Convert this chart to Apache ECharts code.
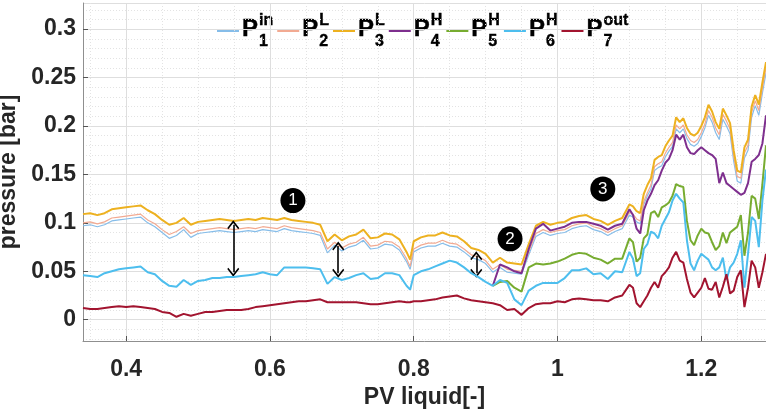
<!DOCTYPE html>
<html>
<head>
<meta charset="utf-8">
<script src="https://cdn.jsdelivr.net/npm/echarts@6/dist/echarts.min.js"></script>
<style>html,body{margin:0;padding:0;background:#fff;}#c{width:766px;height:410px;}</style>
</head>
<body>
<div id="c"></div>
<script>
// ---- data ----
const pv = [0.34,0.35,0.36,0.37,0.38,0.39,0.40,0.41,0.42,0.43,0.44,0.45,0.46,0.47,0.48,0.49,0.50,0.51,0.52,0.53,0.54,0.55,0.56,0.57,0.58,0.59,0.60,0.61,0.62,0.63,0.64,0.65,0.66,0.67,0.68,0.69,0.70,0.71,0.72,0.73,0.74,0.75,0.76,0.77,0.78,0.79,0.795,0.80,0.81,0.82,0.83,0.84,0.85,0.86,0.87,0.88,0.89,0.90,0.91,0.92,0.93,0.94,0.95,0.96,0.97,0.98,0.99,1.00,1.01,1.02,1.03,1.04,1.05,1.06,1.07,1.08,1.09,1.10,1.105,1.11,1.115,1.12,1.125,1.13,1.135,1.14,1.145,1.15,1.155,1.16,1.165,1.17,1.175,1.18,1.185,1.19,1.195,1.20,1.205,1.21,1.215,1.22,1.225,1.23,1.235,1.24,1.245,1.25,1.255,1.26,1.265,1.27,1.275,1.28,1.285,1.29];

const p1 = [0.097,0.098,0.096,0.098,0.102,0.103,0.104,0.105,0.106,0.100,
0.096,0.090,0.084,0.087,0.093,0.085,0.089,0.090,0.091,0.092,
0.091,0.090,0.091,0.092,0.091,0.093,0.092,0.091,0.094,0.092,
0.091,0.090,0.089,0.087,0.069,0.077,0.071,0.075,0.077,0.082,
0.073,0.074,0.078,0.077,0.072,0.060,
0.052,
0.070,0.074,0.076,0.076,0.079,0.076,0.075,0.070,0.064,0.062,
0.058,0.049,0.054,0.049,0.048,0.047,0.067,0.086,0.090,0.087,
0.089,0.090,0.094,0.096,0.097,0.093,0.091,0.087,0.091,0.094,
0.108,
0.106,0.101,0.099,0.119,0.128,0.135,0.154,0.157,0.159,0.168,
0.174,0.179,0.197,0.193,0.197,0.187,0.181,0.179,0.182,0.189,
0.198,0.211,0.204,0.193,0.186,0.207,0.200,0.192,0.164,0.143,
0.141,0.167,0.175,0.209,0.221,0.211,0.234,0.255];

const p2 = [0.100,0.101,0.099,0.101,0.105,0.106,0.107,0.108,0.109,0.103,
0.099,0.093,0.088,0.091,0.096,0.089,0.092,0.093,0.094,0.095,
0.094,0.093,0.094,0.095,0.094,0.096,0.095,0.094,0.097,0.095,
0.094,0.093,0.092,0.090,0.073,0.080,0.074,0.078,0.080,0.085,
0.076,0.077,0.081,0.080,0.075,0.063,
0.055,
0.073,0.077,0.079,0.079,0.082,0.079,0.078,0.073,0.067,0.065,
0.061,0.052,0.057,0.052,0.051,0.050,0.070,0.089,0.093,0.090,
0.092,0.093,0.097,0.099,0.100,0.096,0.094,0.090,0.094,0.097,
0.111,
0.109,0.104,0.102,0.122,0.131,0.139,0.158,0.161,0.163,0.172,
0.178,0.183,0.201,0.197,0.201,0.191,0.185,0.183,0.186,0.193,
0.202,0.216,0.209,0.198,0.191,0.212,0.205,0.197,0.169,0.148,
0.146,0.172,0.180,0.214,0.226,0.216,0.239,0.260];

const p3 = [0.109,0.110,0.108,0.110,0.114,0.115,0.116,0.117,0.118,0.113,
0.109,0.103,0.098,0.100,0.105,0.098,0.101,0.102,0.103,0.104,
0.103,0.102,0.103,0.104,0.103,0.105,0.104,0.103,0.105,0.103,
0.102,0.101,0.100,0.098,0.081,0.088,0.082,0.086,0.088,0.093,
0.084,0.085,0.089,0.088,0.083,0.070,
0.062,
0.081,0.085,0.087,0.087,0.090,0.087,0.086,0.081,0.074,0.072,
0.068,0.059,0.064,0.059,0.058,0.057,0.078,0.097,0.101,0.098,
0.100,0.101,0.105,0.107,0.108,0.104,0.102,0.098,0.102,0.105,
0.119,
0.117,0.112,0.110,0.130,0.139,0.146,0.165,0.168,0.170,0.179,
0.185,0.190,0.209,0.204,0.208,0.198,0.192,0.190,0.193,0.200,
0.209,0.222,0.215,0.204,0.197,0.218,0.211,0.203,0.175,0.154,
0.152,0.178,0.186,0.220,0.232,0.222,0.245,0.266];

// P4 and P5 run under P6 until they branch off at PV = 0.91
const branchPV = 0.91;
const p4 = [0.035,0.057,0.054,0.050,0.048,0.073,0.094,0.099,0.092,
0.094,0.096,0.100,0.101,0.101,0.099,0.097,0.093,0.097,0.099,
0.114,
0.108,0.094,0.089,0.113,0.123,0.130,0.139,0.144,0.154,0.162,
0.166,0.175,0.191,0.186,0.191,0.178,0.172,0.171,0.175,0.178,
0.175,0.172,0.170,0.166,0.141,0.152,0.141,0.138,0.135,0.132,
0.129,0.131,0.141,0.163,0.166,0.170,0.182,0.211];

const p5 = [0.035,0.039,0.040,0.033,0.029,0.054,0.058,0.057,0.058,
0.060,0.063,0.067,0.069,0.068,0.064,0.062,0.058,0.063,0.063,
0.084,
0.080,0.060,0.064,0.084,0.088,0.110,0.112,0.106,0.116,0.118,
0.121,0.128,0.140,0.138,0.137,0.102,0.082,0.077,0.087,0.094,
0.090,0.089,0.080,0.072,0.076,0.090,0.079,0.090,0.093,0.096,
0.108,0.066,0.090,0.128,0.125,0.104,0.140,0.180];

const p6 = [0.046,0.045,0.044,0.048,0.050,0.052,0.053,0.054,0.055,0.049,
0.047,0.040,0.035,0.034,0.041,0.036,0.040,0.041,0.043,0.043,
0.044,0.044,0.045,0.046,0.047,0.049,0.047,0.046,0.054,0.054,
0.054,0.054,0.053,0.052,0.037,0.044,0.041,0.043,0.046,0.048,
0.042,0.043,0.048,0.048,0.046,0.035,
0.031,
0.046,0.050,0.052,0.055,0.058,0.061,0.059,0.054,0.048,0.044,
0.039,0.035,0.041,0.038,0.021,0.015,0.030,0.035,0.038,0.038,
0.038,0.043,0.051,0.051,0.053,0.047,0.048,0.042,0.050,0.049,
0.070,
0.063,0.045,0.048,0.073,0.078,0.091,0.089,0.084,0.097,0.104,
0.111,0.123,0.130,0.125,0.121,0.082,0.058,0.051,0.061,0.068,
0.065,0.062,0.054,0.051,0.054,0.064,0.041,0.054,0.059,0.068,
0.082,0.033,0.068,0.106,0.102,0.075,0.123,0.155];

const p7 = [0.012,0.011,0.011,0.012,0.013,0.014,0.013,0.014,0.013,0.012,
0.011,0.008,0.007,0.003,0.006,0.004,0.006,0.008,0.008,0.009,
0.010,0.010,0.010,0.011,0.013,0.014,0.015,0.016,0.017,0.018,
0.019,0.019,0.020,0.021,0.018,0.018,0.018,0.018,0.018,0.017,
0.016,0.016,0.017,0.018,0.019,0.018,
0.018,
0.019,0.019,0.020,0.021,0.023,0.024,0.025,0.022,0.020,0.019,
0.018,0.017,0.015,0.010,0.011,0.005,0.012,0.016,0.017,0.017,
0.019,0.018,0.021,0.022,0.021,0.020,0.020,0.019,0.023,0.025,
0.036,
0.033,0.017,0.013,0.019,0.025,0.033,0.039,0.033,0.045,0.049,
0.054,0.064,0.070,0.061,0.059,0.042,0.028,0.023,0.028,0.033,
0.043,0.032,0.031,0.039,0.023,0.034,0.047,0.027,0.030,0.044,
0.051,0.013,0.033,0.061,0.054,0.033,0.049,0.068];

const seriesNames = ['P1in','P2L','P3L','P4H','P5H','P6H','P7out'];
const legendSup = ['in','L','L','H','H','H','out'];
const legendSub = ['1','2','3','4','5','6','7'];

// annotations (data coordinates)
const arrowPV     = [0.549, 0.695, 0.887];
const arrowTop    = [0.098, 0.076, 0.066];
const arrowBottom = [0.049, 0.048, 0.048];
const badgeText = ['1','2','3'];
const badgePV   = [0.632, 0.934, 1.063];
const badgeP    = [0.123, 0.0835, 0.135];

// ---- styles ----
const colors = ['#86bde9','#f2aa92','#EDB120','#7E2F8E','#77AC30','#4DBEEE','#A2142F'];
const widths = [1.2, 1.2, 2, 2, 2, 2, 2];
const FONT = 'Liberation Sans';

const startIdx = pv.indexOf(branchPV);
function pairs(xs, ys) { return ys.map((y, i) => [xs[i], y]); }
const allY = [p1, p2, p3, p4, p5, p6, p7];
const allX = [pv, pv, pv, pv.slice(startIdx), pv.slice(startIdx), pv, pv];

const chevron = 'path://M0,0 L8,8 L6.6,9.4 L0,2.8 L-6.6,9.4 L-8,8 Z';

const series = allY.map((ys, i) => ({
  name: seriesNames[i],
  type: 'line',
  data: pairs(allX[i], ys),
  showSymbol: false,
  symbol: 'none',
  clip: true,
  animation: false,
  lineStyle: { color: colors[i], width: widths[i] },
  itemStyle: { color: colors[i] },
  z: 2 + i
}));

series[6].markLine = {
  silent: true, animation: false,
  symbol: [chevron, chevron], symbolSize: [12, 9],
  label: { show: false },
  lineStyle: { color: '#000', width: 1.6, type: 'solid' },
  emphasis: { disabled: true },
  data: arrowPV.map((x, i) => [{ coord: [x, arrowTop[i]] }, { coord: [x, arrowBottom[i]] }])
};
series[6].markPoint = {
  silent: true, animation: false,
  symbol: 'circle', symbolSize: 25,
  itemStyle: { color: '#000' },
  label: { show: true, color: '#fff', fontSize: 17, fontFamily: FONT, formatter: p => p.name },
  emphasis: { disabled: true },
  data: badgeText.map((t, i) => ({ name: t, coord: [badgePV[i], badgeP[i]] }))
};

// ---- legend built as text with super/subscripts ----
function buildLegend() {
  const ctx = document.createElement('canvas').getContext('2d');
  const els = [];
  let x = 217;
  const yLine = 31;
  const txt = (t, size, px, py) => ({
    type: 'text', silent: true, x: px, y: py,
    style: { text: t, fontSize: size, fontWeight: 'bold', fontFamily: FONT, fill: '#000',
             stroke: '#000', lineWidth: 0.4, align: 'left', verticalAlign: 'middle' }
  });
  for (let i = 0; i < colors.length; i++) {
    els.push({ type: 'line', silent: true, shape: { x1: x, y1: yLine, x2: x + 22, y2: yLine },
      style: { stroke: colors[i], lineWidth: 2 } });
    const px = x + 25;
    ctx.font = 'bold 24px "' + FONT + '"'; const pw = ctx.measureText('P').width;
    els.push(txt('P', 24, px, 29));
    const sx = px + pw + 1;
    ctx.font = 'bold 16px "' + FONT + '"';
    const supW = ctx.measureText(legendSup[i]).width;
    const subW = ctx.measureText(legendSub[i]).width;
    els.push(txt(legendSup[i], 16, sx, 21));
    els.push(txt(legendSub[i], 16, sx, 42));
    x = sx + Math.max(supW, subW) + 4;
  }
  return els;
}

const chart = echarts.init(document.getElementById('c'), null, { renderer: 'canvas' });
const axisLabelStyle = { color: '#262626', fontSize: 23, fontWeight: 'bold', fontFamily: FONT };
chart.setOption({
  backgroundColor: '#fff',
  animation: false,
  grid: { left: 83, right: 0, top: 3, bottom: 69, containLabel: false, outerBoundsMode: 'none' },
  xAxis: {
    type: 'value', min: 0.34, max: 1.29, minInterval: 0.2, maxInterval: 0.2,
    name: 'PV liquid[-]', nameLocation: 'middle', nameGap: 41,
    nameTextStyle: { color: '#262626', fontSize: 23, fontWeight: 'bold', fontFamily: FONT },
    axisLine: { show: true, onZero: false, lineStyle: { color: '#8f8f8f', width: 1 } },
    axisTick: { show: true, inside: true, length: 5, lineStyle: { color: '#555' } },
    axisLabel: Object.assign({ margin: 17, showMinLabel: false, showMaxLabel: false }, axisLabelStyle),
    splitLine: { show: true, lineStyle: { color: '#dedede', width: 1 } },
    minorTick: { show: false, splitNumber: 4 },
    minorSplitLine: { show: true, lineStyle: { color: '#e3e3e3', width: 1, type: [1, 2] } }
  },
  yAxis: {
    type: 'value', min: -0.022, max: 0.327, minInterval: 0.05, maxInterval: 0.05,
    name: 'pressure [bar]', nameLocation: 'middle', nameGap: 53,
    nameTextStyle: { color: '#262626', fontSize: 23, fontWeight: 'bold', fontFamily: FONT },
    axisLine: { show: true, lineStyle: { color: '#8f8f8f', width: 1 } },
    axisTick: { show: true, inside: true, length: 5, lineStyle: { color: '#555' } },
    axisLabel: Object.assign({ margin: 7, showMinLabel: false, showMaxLabel: false }, axisLabelStyle),
    splitLine: { show: true, lineStyle: { color: '#dedede', width: 1 } },
    minorTick: { show: false, splitNumber: 5 },
    minorSplitLine: { show: true, lineStyle: { color: '#e3e3e3', width: 1, type: [1, 2] } }
  },
  series: series,
  graphic: buildLegend()
});
</script>
</body>
</html>
